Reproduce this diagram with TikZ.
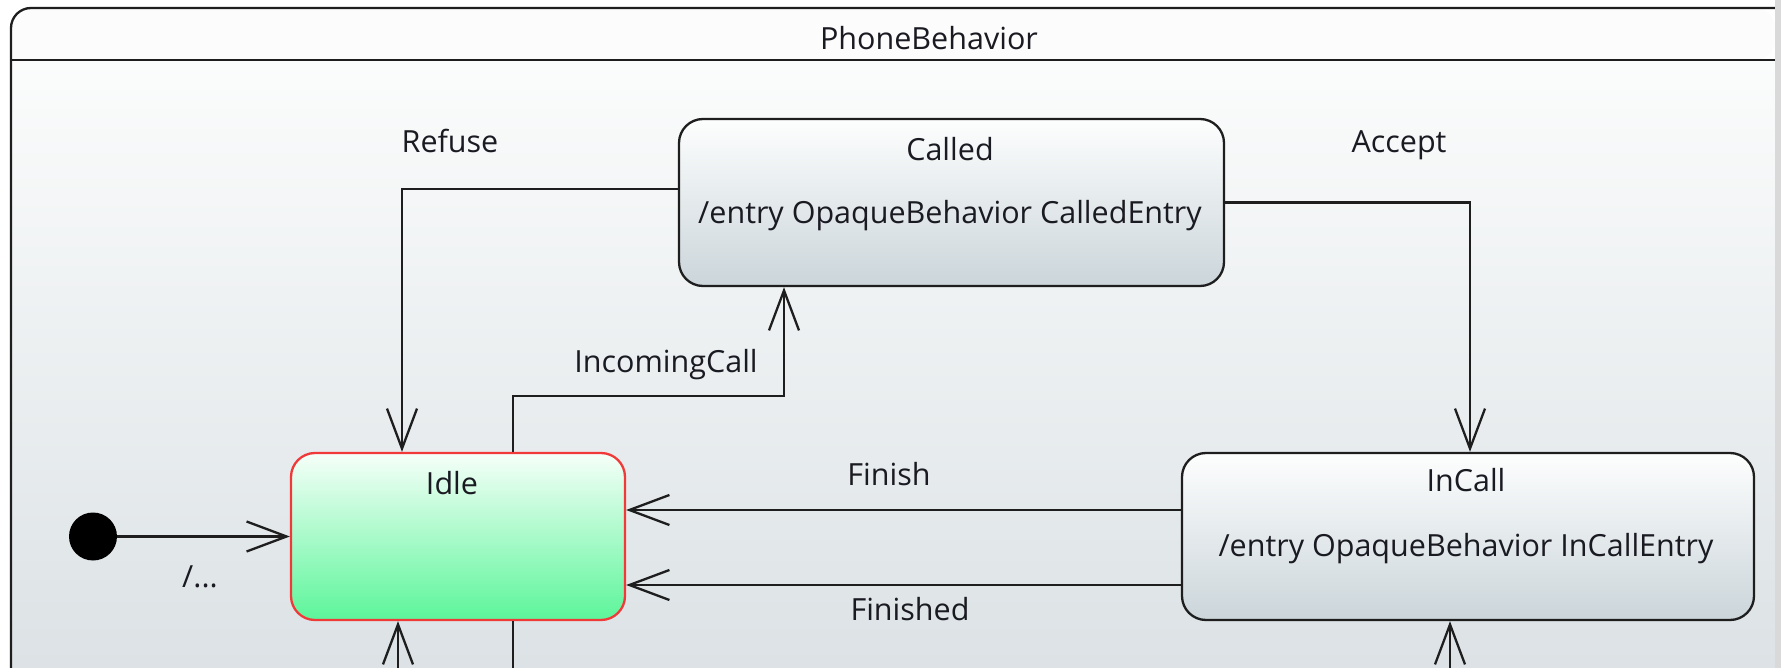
\documentclass[tikz,border=0pt]{standalone}
\usepackage{fontspec}
\setmainfont{Open Sans}
\usepackage{tikz}
\usetikzlibrary{arrows.meta}
\definecolor{ink}{HTML}{1A1A22}
\definecolor{line}{HTML}{1E1E1E}
\definecolor{bodytop}{HTML}{FBFCFC}
\definecolor{bodybot}{HTML}{DCE2E5}
\definecolor{statetop}{HTML}{FDFEFE}
\definecolor{statebot}{HTML}{CBD5DA}
\definecolor{idletop}{HTML}{F6FFF9}
\definecolor{idlebot}{HTML}{5CF59A}
\definecolor{idleline}{HTML}{F03A3A}
\definecolor{strip}{HTML}{D9D9D9}
\tikzset{
  state/.style={draw=line, line width=2.3pt, rounded corners=24pt, top color=statetop, bottom color=statebot, minimum width=545pt, minimum height=167pt, inner sep=0pt},
  idlestate/.style={state, draw=idleline, top color=idletop, bottom color=idlebot, minimum width=334pt},
  trans/.style={draw=line, line width=2.3pt, -{Straight Barb[length=40pt,width=30pt]}},
  wire/.style={draw=line, line width=2.3pt},
  lab/.style={text=ink, font=\fontsize{30.5}{36}\selectfont, inner sep=0pt},
  dot/.style={circle, fill=black, minimum size=48pt, inner sep=0pt},
}
\begin{document}
\begin{tikzpicture}[x=1pt,y=-1pt]
  \useasboundingbox (0,0) rectangle (1781,668);
  \fill[white] (0,0) rectangle (1781,668);
  % frame of the state machine
  \shade[top color=bodytop, bottom color=bodybot] (11,60) rectangle (1775,668);
  \fill[white!98!gray, rounded corners=20pt] (11,70) -- (11,8) -- (1775,8) -- (1775,60) -- (11,60) -- cycle;
  \draw[line, line width=2.3pt, rounded corners=20pt] (11,668) -- (11,8) -- (1775,8);
  \draw[line, line width=2.3pt] (11,60) -- (1775,60);
  \fill[strip] (1775,0) rectangle (1781,668);
  \node[lab] (title) at (929,38) {PhoneBehavior};
  % states
  \node[state] (called) at (951.5,202.5) {};
  \node[idlestate] (idle) at (458,536.5) {};
  \node[state, minimum width=572pt] (incall) at (1468,536.5) {};
  \node[dot] (init) at (93,536.5) {};
  \node[lab] (calledname) at (950,149) {Called};
  \node[lab] (calledentry) at (950,216) {/entry OpaqueBehavior CalledEntry};
  \node[lab] (idlename) at (452,483) {Idle};
  \node[lab] (incallname) at (1466,480) {InCall};
  \node[lab] (incallentry) at (1466,549) {/entry OpaqueBehavior InCallEntry};
  % transitions
  \coordinate (idlein) at (398,668);
  \coordinate (idleout) at (513,668);
  \coordinate (incallin) at (1450,668);
  \draw[trans] (init) -- (idle);
  \draw[trans] ([yshift=13.5pt]called.west) -| ([xshift=-56pt]idle.north);
  \draw[trans] (called.east) -| ([xshift=2pt]incall.north);
  \draw[trans] ([xshift=55pt]idle.north) -- ++(0,-56) -| ([xshift=-167.5pt]called.south);
  \draw[trans] ([yshift=26.5pt]incall.west) -- ([yshift=26.5pt]idle.east);
  \draw[trans] ([yshift=-48.5pt]incall.west) -- ([yshift=-48.5pt]idle.east);
  \draw[trans] (idlein) -- (idlein |- idle.south);
  \draw[wire] (idleout |- idle.south) -- (idleout);
  \draw[trans] (incallin) -- (incallin |- incall.south);
  % labels
  \node[lab] (lbinit) at (200,577) {/...};
  \node[lab] (lbrefuse) at (450,141) {Refuse};
  \node[lab] (lbaccept) at (1399,145) {Accept};
  \node[lab] (lbincoming) at (666,365) {IncomingCall};
  \node[lab] (lbfinish) at (889,474) {Finish};
  \node[lab] (lbfinished) at (910,609) {Finished};
\end{tikzpicture}
\end{document}
